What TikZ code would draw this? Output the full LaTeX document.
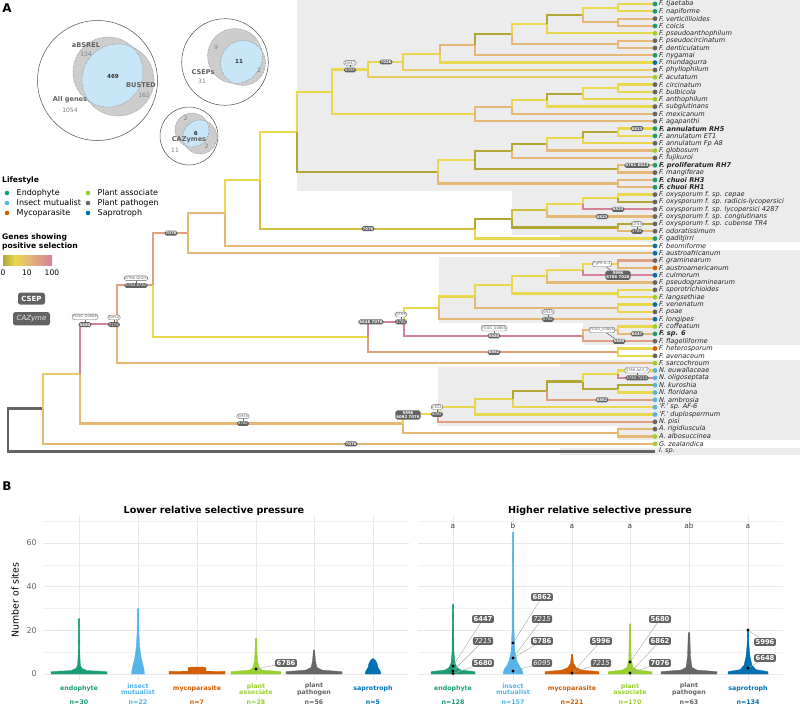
\documentclass[tikz,border=0pt]{standalone}
\usepackage{fontspec}
\setmainfont{DejaVu Sans}
\usetikzlibrary{positioning,calc}

% branch colours (genes showing positive selection)
\definecolor{brO}{RGB}{178,166,54}
\definecolor{brOY}{RGB}{206,192,62}
\definecolor{brY}{RGB}{233,215,78}
\definecolor{brYT}{RGB}{235,202,100}
\definecolor{brT}{RGB}{229,184,118}
\definecolor{brS}{RGB}{224,160,128}
\definecolor{brP}{RGB}{212,130,150}
\definecolor{rootgrey}{RGB}{100,100,100}
\definecolor{bandgrey}{RGB}{236,236,236}
\definecolor{labgrey}{RGB}{98,98,98}
\definecolor{gridgrey}{RGB}{232,232,232}
% lifestyles
\definecolor{endo}{RGB}{27,158,119}
\definecolor{insct}{RGB}{86,180,233}
\definecolor{myco}{RGB}{213,94,0}
\definecolor{pasc}{RGB}{154,208,50}
\definecolor{ppth}{RGB}{102,102,102}
\definecolor{sapr}{RGB}{0,114,178}
\definecolor{vennblue}{RGB}{200,230,248}
\definecolor{venngrey}{RGB}{205,205,205}

% internal node of the tree, half way between its two children
\newcommand{\clad}[4]{%
  \path ($(#3)!0.5!(#4)$) coordinate (#1m);%
  \coordinate (#1) at (#1m -| #2,0);%
}
% half violin, mirrored
\newcommand{\vio}[3]{%
  \begin{scope}[shift={(#1,674)},y=2.183pt]
    \filldraw[#2,line width=0.3pt] (0,0) \foreach \w/\v in {#3} {-- (\w,\v)} -- cycle;
    \begin{scope}[xscale=-1]
      \filldraw[#2,line width=0.3pt] (0,0) \foreach \w/\v in {#3} {-- (\w,\v)} -- cycle;
    \end{scope}
  \end{scope}
}
% labelled point in panel B
\newcommand{\ptlab}[5]{%
  \draw[vlink] (#4) -- (#2);%
  \node[#3] (#1) at (#2) {#5};%
}

\begin{document}
\begin{tikzpicture}[x=1pt,y=-1pt,
  br/.style={line width=2.3pt},
  sptxt/.style={font=\itshape\fontsize{6.6}{7}\selectfont,inner sep=0.4pt,text=black!85},
  csep/.style={fill=labgrey,text=white,rounded corners=1.8pt,inner sep=1pt,
    font=\bfseries\fontsize{3.9}{4.4}\selectfont,align=center},
  cazy/.style={csep,font=\itshape\fontsize{3.9}{4.4}\selectfont},
  gname/.style={draw=labgrey,line width=0.35pt,fill=white,text=labgrey,rounded corners=2.4pt,
    inner sep=1pt,font=\fontsize{3.7}{4.2}\selectfont},
  lnk/.style={labgrey,line width=0.5pt},
  legtxt/.style={font=\fontsize{8}{9}\selectfont,anchor=west,inner sep=0pt},
  legttl/.style={font=\bfseries\fontsize{7.6}{9}\selectfont,anchor=west,inner sep=0pt,align=left},
  vlab/.style={fill=labgrey,text=white,rounded corners=2pt,inner sep=1.4pt,font=\bfseries\fontsize{6.8}{7}\selectfont},
  vlabi/.style={vlab,font=\itshape\fontsize{6.8}{7}\selectfont},
  vlink/.style={black!35,line width=0.4pt},
  gridmaj/.style={gridgrey,line width=0.8pt},
  gridmin/.style={gridgrey!60,line width=0.4pt},
  cat/.style={font=\bfseries\fontsize{6.3}{6.6}\selectfont,align=center,inner sep=0pt},
  vnum/.style={font=\fontsize{6}{7}\selectfont,text=black!50,inner sep=0pt},
  vname/.style={font=\bfseries\fontsize{6.6}{7}\selectfont,text=black!62,inner sep=0pt}]

\useasboundingbox (0,0) rectangle (800,705);

% ---------------- panel A: shaded clades
\fill[bandgrey] (297,0) rectangle (800,190.8);
\fill[bandgrey] (512,190.8) rectangle (800,234.9);
\fill[bandgrey] (560,234.9) rectangle (800,242.2);
\fill[bandgrey] (560,249.6) rectangle (800,256.9);
\fill[bandgrey] (439,256.9) rectangle (800,322.9);
\fill[bandgrey] (583,322.9) rectangle (800,345);
\fill[bandgrey] (560,359.6) rectangle (800,366.9);
\fill[bandgrey] (438,366.9) rectangle (800,425.5);
\fill[bandgrey] (618,425.5) rectangle (800,440.2);
\fill[bandgrey] (560,447.5) rectangle (800,455);

% tips
\foreach \i/\sp in {
  1/{F. tjaetaba}, 2/{F. napiforme}, 3/{F. verticillioides},
  4/{F. coicis}, 5/{F. pseudoanthophilum}, 6/{F. pseudocircinatum},
  7/{F. denticulatum}, 8/{F. nygamai}, 9/{F. mundagurra},
  10/{F. phyllophilum}, 11/{F. acutatum}, 12/{F. circinatum},
  13/{F. bulbicola}, 14/{F. anthophilum}, 15/{F. subglutinans},
  16/{F. mexicanum}, 17/{F. agapanthi}, 18/{\bfseries F. annulatum RH5},
  19/{F. annulatum ET1}, 20/{F. annulatum Fp A8}, 21/{F. globosum},
  22/{F. fujikuroi}, 23/{\bfseries F. proliferatum RH7}, 24/{F. mangiferae},
  25/{\bfseries F. chuoi RH3}, 26/{\bfseries F. chuoi RH1},
  27/{F. oxysporum f. sp. cepae}, 28/{F. oxysporum f. sp. radicis-lycopersici},
  29/{F. oxysporum f. sp. lycopersici 4287}, 30/{F. oxysporum f. sp. conglutinans},
  31/{F. oxysporum f. sp. cubense TR4}, 32/{F. odoratissimum},
  33/{F. gaditjirri}, 34/{F. beomiforme}, 35/{F. austroafricanum},
  36/{F. graminearum}, 37/{F. austroamericanum}, 38/{F. culmorum},
  39/{F. pseudograminearum}, 40/{F. sporotrichioides}, 41/{F. langsethiae},
  42/{F. venenatum}, 43/{F. poae}, 44/{F. longipes},
  45/{F. coffeatum}, 46/{\bfseries F. sp. 6}, 47/{F. flagelliforme},
  48/{F. heterosporum}, 49/{F. avenaceum}, 50/{F. sarcochroum},
  51/{N. euwallaceae}, 52/{N. oligoseptata}, 53/{N. kuroshia},
  54/{N. floridana}, 55/{N. ambrosia}, 56/{'F.' sp. AF-6},
  57/{'F.' duplospermum}, 58/{N. pisi}, 59/{A. rigidiuscula},
  60/{A. albosuccinea}, 61/{G. zealandica}, 62/{I. sp.}} {
  \coordinate (t\i) at (655,{4+(\i-1)*7.33});
  \node[sptxt,anchor=west] (s\i) at ([xshift=3.4pt]t\i) {\sp};
}

% Fusarium fujikuroi species complex
\clad{c618a}{618}{t1}{t2}
\clad{c618b}{618}{t3}{t4}
\clad{c583a}{583}{c618a}{c618b}
\clad{c547a}{547}{c583a}{t5}
\clad{c618c}{618}{t6}{t7}
\clad{c512a}{512}{c547a}{c618c}
\clad{c475a}{475}{c512a}{t8}
\clad{c440a}{440}{c475a}{t9}
\clad{c403a}{403}{c440a}{t10}
\clad{c368a}{368}{c403a}{t11}
\clad{c618d}{618}{t12}{t13}
\clad{c583d}{583}{c618d}{t14}
\clad{c547d}{547}{c583d}{t15}
\clad{c512d}{512}{c547d}{t16}
\clad{c475d}{475}{c512d}{t17}
\clad{c332}{332}{c368a}{c475d}
\clad{c618e}{618}{t18}{t19}
\clad{c583e}{583}{c618e}{t20}
\clad{c547e}{547}{c583e}{t21}
\clad{c512e}{512}{c547e}{t22}
\clad{c618f}{618}{t23}{t24}
\clad{c475e}{475}{c512e}{c618f}
\clad{c618g}{618}{t25}{t26}
\clad{c438e}{438}{c475e}{c618g}
\clad{ffsc}{297}{c332}{c438e}
% oxysporum
\clad{c618h}{618}{t27}{t28}
\clad{c583h}{583}{c618h}{t29}
\clad{c547h}{547}{c583h}{t30}
\clad{c618i}{618}{t31}{t32}
\clad{fosc}{512}{c547h}{c618i}
\clad{c475h}{475}{fosc}{t33}
\clad{nA}{260}{ffsc}{c475h}
\clad{nB}{225}{nA}{t34}
\clad{nC}{188}{nB}{t35}
% sambucinum and others
\clad{c618j}{618}{t36}{t37}
\clad{c583j}{583}{c618j}{t38}
\clad{c547j}{547}{c583j}{t39}
\clad{c618k}{618}{t40}{t41}
\clad{c512j}{512}{c547j}{c618k}
\clad{c618l}{618}{t42}{t43}
\clad{c475j}{475}{c512j}{c618l}
\clad{samb}{439}{c475j}{t44}
\clad{c618m}{618}{t45}{t46}
\clad{c583m}{583}{c618m}{t47}
\clad{nG}{404}{samb}{c583m}
\clad{c618n}{618}{t48}{t49}
\clad{nF}{368}{nG}{c618n}
\clad{nD}{153}{nC}{nF}
\clad{nE}{117}{nD}{t50}
% Neocosmospora and outgroups
\clad{c618o}{618}{t51}{t52}
\clad{c618p}{618}{t53}{t54}
\clad{c583o}{583}{c618o}{c618p}
\clad{c547o}{547}{c583o}{t55}
\clad{c513o}{513}{c547o}{t56}
\clad{c475o}{475}{c513o}{t57}
\clad{neo}{438}{c475o}{t58}
\clad{c618q}{618}{t59}{t60}
\clad{nH}{403}{neo}{c618q}
\clad{n2}{80}{nE}{nH}
\clad{n1}{43}{n2}{t61}
\clad{root}{8}{n1}{t62}

\draw[br,rootgrey,line width=2.8pt] (root) |- (n1);
\draw[br,rootgrey,line width=2.8pt] (root) |- (t62);
\foreach \p/\c/\col in {
  n1/n2/brYT, n1/t61/brT, n2/nE/brP, n2/nH/brT, nE/nD/brS, nE/t50/brT,
  nD/nC/brS, nD/nF/brY, nC/nB/brT, nC/t35/brT, nB/nA/brY, nB/t34/brT,
  nA/ffsc/brY, nA/c475h/brOY, c475h/fosc/brO, c475h/t33/brY,
  fosc/c547h/brOY, fosc/c618i/brO, c547h/c583h/brY, c547h/t30/brT,
  c583h/c618h/brY, c583h/t29/brP, c618h/t27/brY, c618h/t28/brO,
  c618i/t31/brO, c618i/t32/brT,
  ffsc/c332/brY, ffsc/c438e/brO, c332/c368a/brY, c332/c475d/brY,
  c368a/c403a/brY, c368a/t11/brYT, c403a/c440a/brY, c403a/t10/brYT,
  c440a/c475a/brT, c440a/t9/brY, c475a/c512a/brO, c475a/t8/brT,
  c512a/c547a/brY, c512a/c618c/brT, c547a/c583a/brO, c547a/t5/brY,
  c583a/c618a/brY, c583a/c618b/brT, c618a/t1/brY, c618a/t2/brY,
  c618b/t3/brT, c618b/t4/brT, c618c/t6/brT, c618c/t7/brT,
  c475d/c512d/brT, c475d/t17/brT, c512d/c547d/brY, c512d/t16/brT,
  c547d/c583d/brO, c547d/t15/brY, c583d/c618d/brY, c583d/t14/brY,
  c618d/t12/brY, c618d/t13/brY,
  c438e/c475e/brY, c438e/c618g/brT, c475e/c512e/brO, c475e/c618f/brO,
  c512e/c547e/brO, c512e/t22/brT, c547e/c583e/brY, c547e/t21/brT,
  c583e/c618e/brO, c583e/t20/brY, c618e/t18/brY, c618e/t19/brY,
  c618f/t23/brT, c618f/t24/brT, c618g/t25/brT, c618g/t26/brT,
  nF/nG/brP, nF/c618n/brS, nG/samb/brY, nG/c583m/brP,
  samb/c475j/brY, samb/t44/brT, c475j/c512j/brY, c475j/c618l/brT,
  c512j/c547j/brY, c512j/c618k/brY, c547j/c583j/brY, c547j/t39/brT,
  c583j/c618j/brY, c583j/t38/brP, c618j/t36/brS, c618j/t37/brT,
  c618k/t40/brY, c618k/t41/brY, c618l/t42/brY, c618l/t43/brY,
  c583m/c618m/brT, c583m/t47/brS, c618m/t45/brY, c618m/t46/brT,
  c618n/t48/brY, c618n/t49/brY,
  nH/neo/brY, nH/c618q/brT, neo/c475o/brY, neo/t58/brS,
  c475o/c513o/brY, c475o/t57/brY, c513o/c547o/brO, c513o/t56/brY,
  c547o/c583o/brO, c547o/t55/brS, c583o/c618o/brY, c583o/c618p/brO,
  c618o/t51/brY, c618o/t52/brP, c618p/t53/brO, c618p/t54/brY,
  c618q/t59/brT, c618q/t60/brT} {
  \draw[br,\col] (\p) |- (\c);
}

% lifestyle dots at the tips
\foreach \i/\ls in {1/endo,2/endo,3/ppth,4/endo,5/pasc,6/ppth,7/ppth,8/endo,9/sapr,10/ppth,
  11/pasc,12/ppth,13/ppth,14/pasc,15/ppth,16/ppth,17/ppth,18/endo,19/endo,20/ppth,
  21/pasc,22/ppth,23/endo,24/ppth,25/endo,26/endo,27/ppth,28/ppth,29/ppth,30/ppth,
  31/ppth,32/ppth,33/endo,34/sapr,35/sapr,36/ppth,37/myco,38/sapr,39/ppth,40/ppth,
  41/pasc,42/sapr,43/ppth,44/sapr,45/pasc,46/endo,47/ppth,48/myco,49/ppth,50/pasc,
  51/insct,52/insct,53/insct,54/insct,55/insct,56/insct,57/insct,58/ppth,59/ppth,
  60/pasc,61/pasc}
  \fill[\ls] (t\i) circle (2.4);

% genes on branches
\node[cazy] (k1) at (350,70) {6095};
\node[gname,above=2pt of k1] (g1) {GH47};
\node[csep] (k2) at (386,62) {7026};
\node[csep] (k3) at (637,128.6) {6823};
\node[csep] (k4) at (637,165.3) {6761 6823};
\node[csep] (k5) at (618,209.3) {6823};
\node[csep] (k6) at (602,216.6) {6823};
\node[cazy] (k7) at (637,231.3) {5784};
\node[gname,above=2pt of k7] (g7) {GT66};
\node[csep] (k8) at (368,228.7) {7076};
\node[csep] (k9) at (171,233.2) {7076};
\node[cazy] (k10) at (136,285.5) {5784 6762};
\node[gname,above=2pt of k10] (g10) {GT66 GH25};
\node[csep] (k11) at (85,324.6) {5680};
\node[gname,above=2pt of k11] (g11) {FGSG\_00006};
\node[cazy] (k12) at (114,324.6) {7174};
\node[gname,above=2pt of k12] (g12) {GH52};
\node[csep] (k13) at (618,275.3) {5996\\6786 7026};
\node[gname] (g13) at (602,264) {FgPR-IL-2};
\node[csep] (k14) at (371,321.8) {6648 7076};
\node[cazy] (k15) at (401,321.8) {5784};
\node[gname,above=2pt of k15] (g15) {GT66};
\node[cazy] (k16) at (548,319.3) {6762};
\node[gname,above=2pt of k16] (g16) {GH25};
\node[csep] (k17) at (494,335.8) {5680};
\node[gname,above=2pt of k17] (g17) {FGSG\_00806};
\node[csep] (k18) at (637,333.9) {6447};
\node[csep] (k19) at (619,341.3) {5680};
\node[gname] (g19) at (602,330) {FGSG\_00806};
\node[csep] (k20) at (494,352.3) {6862};
\node[cazy] (k21) at (637,377.9) {5784 7215};
\node[gname,above=2pt of k21] (g21) {GT66 AA3\_2};
\node[csep] (k22) at (602,399.8) {6862};
\node[cazy] (k23) at (437,414.3) {6092};
\node[gname,above=2pt of k23] (g23) {CE22};
\node[csep] (k24) at (408,415) {5996\\6092 7076};
\node[cazy] (k25) at (243,423.5) {6762};
\node[gname,above=2pt of k25] (g25) {GH35};
\node[csep] (k26) at (351,443.9) {7076};
\foreach \g/\k in {g1/k1,g7/k7,g10/k10,g11/k11,g12/k12,g13/k13,g15/k15,g16/k16,g17/k17,
  g19/k19,g21/k21,g23/k23,g25/k25}
  \draw[lnk] (\g) -- (\k);

% ---------------- Euler diagrams
\draw[black!70,line width=0.5pt] (97.5,80.5) circle (60);
\fill[venngrey] (108,72) circle (35) (118,80) circle (36);
\begin{scope}
  \clip (108,72) circle (35);
  \fill[vennblue] (118,80) circle (36);
\end{scope}
\draw[black!45,densely dotted,line width=0.6pt] (108,72) circle (35) (118,80) circle (36);
\node[vname] (va1) at (86,44.7) {aBSREL};
\node[vnum] (va2) at (86,54.7) {134};
\node[vname,text=black!80,font=\bfseries\fontsize{5.6}{6}\selectfont] (va3) at (113,76.7) {469};
\node[vname] (va4) at (141,84.7) {BUSTED};
\node[vnum] (va5) at (144,95) {162};
\node[vname] (va6) at (70,100) {All genes};
\node[vnum] (va7) at (70,110) {1054};

\draw[black!70,line width=0.5pt] (225,62) circle (43.3);
\fill[venngrey] (235,56) circle (27.5) (243,63) circle (22.5);
\begin{scope}
  \clip (235,56) circle (27.5);
  \fill[vennblue] (243,63) circle (22.5);
\end{scope}
\draw[black!45,densely dotted,line width=0.6pt] (235,56) circle (27.5) (243,63) circle (22.5);
\node[vnum] (vc1) at (216,47.7) {9};
\node[vname,text=black!80,font=\bfseries\fontsize{5.6}{6}\selectfont] (vc2) at (239,61.7) {11};
\node[vnum] (vc3) at (259,70) {2};
\node[vname] (vc4) at (203,71.7) {CSEPs};
\node[vnum] (vc5) at (202,81.7) {31};

\draw[black!70,line width=0.5pt] (189,136) circle (29);
\fill[venngrey] (192,130) circle (17) (200,137) circle (17);
\begin{scope}
  \clip (192,130) circle (17);
  \fill[vennblue] (200,137) circle (17);
\end{scope}
\draw[black!45,densely dotted,line width=0.6pt] (192,130) circle (17) (200,137) circle (17);
\node[vnum] (vz1) at (185.7,118.3) {2};
\node[vname,text=black!80,font=\bfseries\fontsize{5.6}{6}\selectfont] (vz2) at (195.7,133.3) {6};
\node[vname] (vz3) at (189,140) {CAZymes};
\node[vnum] (vz4) at (206.7,146.7) {2};
\node[vnum] (vz5) at (175,150) {11};

% ---------------- legends
\node[font=\bfseries\fontsize{12}{12}\selectfont,inner sep=0pt] (pA) at (7,8.5) {A};
\node[legttl] (lsty) at (2,180) {Lifestyle};
\foreach \n/\x/\y/\ls/\txt in {l1/7/193/endo/Endophyte, l2/7/203/insct/Insect mutualist,
  l3/7/213/myco/Mycoparasite, l4/88/193/pasc/Plant associate, l5/88/203/ppth/Plant pathogen,
  l6/88/213/sapr/Saprotroph} {
  \fill[\ls] (\x,\y) circle (2.3);
  \node[legtxt] (\n) at (\x+9.5,\y) {\txt};
}
\node[legttl] (lgen) at (2,242) {Genes showing\\positive selection};
\shade[left color=brO,right color=brY] (3,255) rectangle (15,265);
\shade[left color=brY,right color=brT] (15,255) rectangle (28,265);
\shade[left color=brT,right color=brP] (28,255) rectangle (52,265);
\node[font=\fontsize{7.6}{8}\selectfont,inner sep=0pt] (gl0) at (3,273) {0};
\node[font=\fontsize{7.6}{8}\selectfont,inner sep=0pt] (gl1) at (27,273) {10};
\node[font=\fontsize{7.6}{8}\selectfont,inner sep=0pt] (gl2) at (52,273) {100};
\node[fill=labgrey,text=white,rounded corners=2.5pt,minimum width=27pt,minimum height=11pt,
  font=\bfseries\fontsize{7}{8}\selectfont] (lcsep) at (31.5,298.7) {CSEP};
\node[fill=labgrey,text=white!90!black,rounded corners=2.5pt,minimum width=37pt,minimum height=11pt,
  font=\itshape\fontsize{7}{8}\selectfont] (lcazy) at (31.5,318.7) {CAZyme};

% ---------------- panel B
\node[font=\bfseries\fontsize{12}{12}\selectfont,inner sep=0pt] (pB) at (7,486) {B};
\node[font=\bfseries\fontsize{9.6}{10}\selectfont] (tlow) at (214,511) {Lower relative selective pressure};
\node[font=\bfseries\fontsize{9.6}{10}\selectfont] (thigh) at (600,511) {Higher relative selective pressure};

\foreach \v in {10,30,50,70} {
  \draw[gridmin] (43,{674-2.183*\v}) -- (409,{674-2.183*\v});
  \draw[gridmin] (418,{674-2.183*\v}) -- (783,{674-2.183*\v});
}
\foreach \v in {0,20,40,60} {
  \draw[gridmaj] (43,{674-2.183*\v}) -- (409,{674-2.183*\v});
  \draw[gridmaj] (418,{674-2.183*\v}) -- (783,{674-2.183*\v});
  \node[font=\fontsize{8}{8}\selectfont,text=black!60,anchor=east,inner sep=0pt] (yt\v) at (37,{674-2.183*\v}) {\v};
}
\foreach \x in {79,138,197,256,314,373,453,513,572,630,689,748}
  \draw[gridmaj] (\x,515) -- (\x,680);
\node[rotate=90,font=\fontsize{9.4}{10}\selectfont] (ylab) at (15,600) {Number of sites};

% violins, lower pressure
\vio{79}{endo}{28/0,28/1.1,8/1.6,3/2.6,1.4/4,0.9/8,0.6/15,0.5/25,0/25}
\vio{138}{insct}{6.5/0,6/2,4.5/5,3/8,1.8/12,1/18,0.5/30,0/30}
\vio{197}{myco}{28/0,28/1.2,9/1.3,9/2.9,6/3.2,0/3.2}
\vio{256}{pasc}{25/0,25/1.1,6/1.8,3/3,1.5/6,1/10,0.6/16,0/16}
\vio{314}{ppth}{28/0,28/1.1,8/1.8,3/3,1.5/6,0.6/11,0/11}
\vio{373}{sapr}{8/0,7/1.5,5/3,4/5,2/6.5,0.5/7,0/7}
\foreach \v in {25,15,7,5} \fill[endo] (79,{674-2.183*\v}) circle (1.3);
\foreach \v in {16,9} \fill[pasc] (256,{674-2.183*\v}) circle (1.3);
% violins, higher pressure
\vio{453}{endo}{22/0,22/1.1,8/1.8,4/3,2/5,1/10,0.5/32,0/32}
\vio{513}{insct}{10/0,9/2,6/4,4/6,2/10,1/20,0.5/65,0/65}
\vio{572}{myco}{27/0,27/1.1,10/1.8,4/3,1.5/5,0.5/9,0/9}
\vio{630}{pasc}{22/0,22/1.1,8/1.8,3/3,1.2/7,0.5/23,0/23}
\vio{689}{ppth}{28/0,28/1.1,8/1.8,3/3,1.5/8,0.7/19,0/19}
\vio{748}{sapr}{20/0,20/1.1,8/2,4/4,2/8,0.8/14,0.5/20,0/20}

\coordinate (pl1) at (256,669);
\coordinate (pe1) at (453,666); \coordinate (pe2) at (453,671); \coordinate (pe3) at (453,673.5);
\coordinate (pi1) at (513,643); \coordinate (pi2) at (513,658); \coordinate (pi3) at (513,671);
\coordinate (pm1) at (572,673);
\coordinate (pa1) at (630,662); \coordinate (pa2) at (630,673);
\coordinate (ps1) at (748,630); \coordinate (ps2) at (748,668);
\ptlab{ll1}{286,663}{vlab}{pl1}{6786}
\ptlab{le1}{483,619}{vlab}{pe1}{6447}
\ptlab{le2}{483,641}{vlabi}{pe2}{7215}
\ptlab{le3}{483,663}{vlab}{pe3}{5680}
\ptlab{li1}{542,597}{vlab}{pi1}{6862}
\ptlab{li2}{542,619}{vlabi}{pi2}{7215}
\ptlab{li3}{542,641}{vlab}{pi2}{6786}
\ptlab{li4}{542,663}{vlabi}{pi3}{6095}
\ptlab{lm1}{601,641}{vlab}{pm1}{5996}
\ptlab{lm2}{601,663}{vlabi}{pm1}{7215}
\ptlab{la1}{660,619}{vlab}{pa1}{5680}
\ptlab{la2}{660,641}{vlab}{pa2}{6862}
\ptlab{la3}{660,663}{vlab}{pa2}{7076}
\ptlab{ls1}{765,642}{vlab}{ps1}{5996}
\ptlab{ls2}{765,658}{vlab}{ps2}{6648}
\foreach \p in {pl1,pe1,pe2,pe3,pi1,pi2,pi3,pm1,pa1,pa2,ps1,ps2}
  \fill[black] (\p) circle (1.6);

% significance letters
\foreach \x/\t in {453/a,513/b,572/a,630/a,689/ab,748/a}
  \node[font=\fontsize{7.4}{8}\selectfont,text=black!75,inner sep=0pt] (sig\x) at (\x,526) {\t};

% categories and counts
\foreach \x/\ls/\t in {79/endo/endophyte,138/insct/{insect\\mutualist},197/myco/mycoparasite,
  256/pasc/{plant\\associate},314/ppth/{plant\\pathogen},373/sapr/saprotroph,
  453/endo/endophyte,513/insct/{insect\\mutualist},572/myco/mycoparasite,
  630/pasc/{plant\\associate},689/ppth/{plant\\pathogen},748/sapr/saprotroph}
  \node[cat,text=\ls] (cl\x) at (\x,689) {\t};
\foreach \x/\ls/\n in {79/endo/30,138/insct/22,197/myco/7,256/pasc/28,314/ppth/56,373/sapr/5,
  453/endo/128,513/insct/157,572/myco/221,630/pasc/170,689/ppth/63,748/sapr/134}
  \node[cat,text=\ls] (n\x) at (\x,702) {n=\n};
\end{tikzpicture}
\end{document}
